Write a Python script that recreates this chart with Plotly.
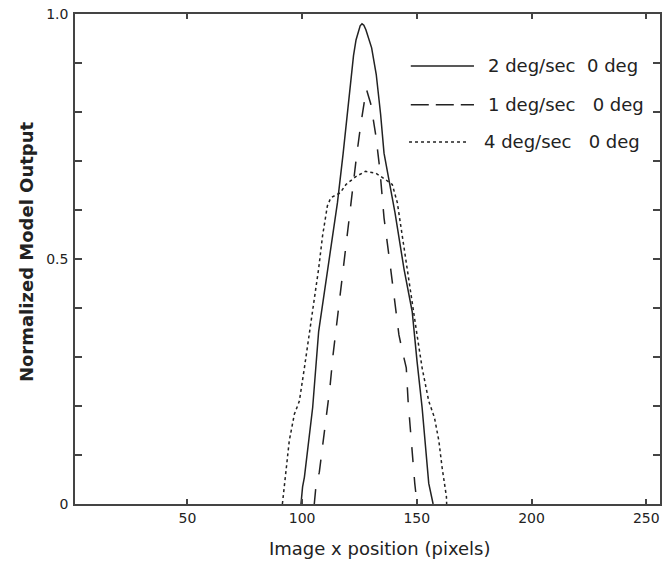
import plotly.graph_objects as go

# ---- data ----
x_2deg = [99.5, 100.2, 101.0, 104.6, 107.2, 111.5, 115.4, 117.9, 119.8, 121.0, 122.4, 123.5, 124.5,
          125.3, 126.1, 126.9, 127.8, 129.0, 130.3, 132.3, 134.2, 135.7, 140.5, 144.4, 148.0,
          150.1, 152.3, 155.2, 157.1]
y_2deg = [0.0, 0.035, 0.055, 0.197, 0.352, 0.49, 0.615, 0.716, 0.796, 0.86, 0.915, 0.947, 0.966,
          0.976, 0.98, 0.977, 0.968, 0.952, 0.931, 0.877, 0.796, 0.716, 0.594, 0.48, 0.392,
          0.291, 0.197, 0.042, 0.0]

x_1deg = [105.3, 106.0, 107.5, 108.6, 109.6, 110.6, 112.1, 113.5, 115.2, 116.9, 118.6, 120.2, 121.7,
          123.7, 125.6, 126.7, 128.0, 129.9, 132.1, 133.9, 135.7, 138.6, 140.3, 142.2, 143.9,
          145.4, 146.2, 147.3, 148.4, 149.1, 150.1]
y_1deg = [0.0, 0.035, 0.065, 0.106, 0.133, 0.17, 0.237, 0.305, 0.372, 0.439, 0.507, 0.578, 0.641,
          0.709, 0.776, 0.813, 0.847, 0.817, 0.753, 0.682, 0.584, 0.48, 0.412, 0.345, 0.308,
          0.278, 0.21, 0.143, 0.075, 0.042, 0.0]

x_4deg = [91.4, 93.0, 94.4, 96.6, 98.8, 101.0, 103.1, 105.3, 107.2, 108.9, 111.0, 112.5, 116.6,
          119.1, 123.4, 127.6, 132.1, 136.4, 139.3, 141.5, 143.6, 145.8, 148.0, 150.1, 152.3,
          155.2, 157.7, 159.6, 161.0, 162.9, 163.0]
y_4deg = [0.0, 0.075, 0.129, 0.183, 0.21, 0.278, 0.345, 0.412, 0.48, 0.547, 0.608, 0.625, 0.635,
          0.652, 0.668, 0.679, 0.675, 0.662, 0.652, 0.615, 0.547, 0.48, 0.412, 0.345, 0.278,
          0.21, 0.176, 0.129, 0.075, 0.015, 0.0]

series_names = ["2 deg/sec\u00a0\u00a00 deg", "1 deg/sec\u00a0\u00a0\u00a00 deg", "4 deg/sec\u00a0\u00a0\u00a00 deg"]
x_ticks = [50, 100, 150, 200, 250]
y_ticks = [0, 0.5, 1.0]
y_tick_text = ["0", "0.5", "1.0"]
x_title = "Image x position (pixels)"
y_title = "Normalized Model Output"

INK = "#222222"
FONT = "DejaVu Sans"

fig = go.Figure()
fig.add_trace(go.Scatter(x=x_2deg, y=y_2deg, mode="lines", name=series_names[0],
                         line=dict(color=INK, width=1.5)))
fig.add_trace(go.Scatter(x=x_1deg, y=y_1deg, mode="lines", name=series_names[1],
                         line=dict(color=INK, width=1.5, dash="15px,15px")))
fig.add_trace(go.Scatter(x=x_4deg, y=y_4deg, mode="lines", name=series_names[2],
                         line=dict(color=INK, width=1.5, dash="3px,3px")))

# legend drawn inside plot (lines + labels)
leg_y = [0.894, 0.815, 0.739]
leg_x0 = [0.574, 0.574, 0.571]
leg_x1 = [0.682, 0.682, 0.673]
leg_tx = [0.703, 0.702, 0.696]
leg_dash = ["solid", "18px,7px", "3px,3px"]
for i in range(3):
    fig.add_shape(type="line", xref="x domain", yref="y domain",
                  x0=leg_x0[i], x1=leg_x1[i], y0=leg_y[i], y1=leg_y[i],
                  line=dict(color=INK, width=1.5, dash=leg_dash[i]))
    fig.add_annotation(xref="x domain", yref="y domain", x=leg_tx[i], y=leg_y[i],
                       text=series_names[i], showarrow=False, xanchor="left", yanchor="middle",
                       font=dict(family=FONT, size=18, color=INK))

fig.add_annotation(xref="paper", yref="paper", x=0.522, y=-0.09, text=x_title, showarrow=False,
                   xanchor="center", yanchor="middle", font=dict(family=FONT, size=18, color=INK))
fig.add_annotation(xref="paper", yref="paper", x=-0.083, y=0.515, text="<b>" + y_title + "</b>",
                   showarrow=False, textangle=-90, xanchor="center", yanchor="middle",
                   font=dict(family=FONT, size=18, color=INK))

fig.update_layout(
    width=668, height=562,
    margin=dict(l=75, r=6, t=9, b=58),
    paper_bgcolor="white", plot_bgcolor="white",
    showlegend=False,
    font=dict(family=FONT, size=14, color=INK),
)
fig.update_xaxes(range=[1, 256], tickvals=x_ticks, ticks="inside", ticklen=5, tickwidth=1.5,
                 tickcolor="#444", showline=True, linecolor="#444", linewidth=1.5, mirror="ticks",
                 showgrid=False, zeroline=False, tickfont=dict(size=14), ticklabelstandoff=0)
fig.update_yaxes(range=[0, 1], tickvals=y_ticks, ticktext=y_tick_text, ticks="inside", ticklen=7,
                 tickwidth=1.5, tickcolor="#444", showline=True, linecolor="#444", linewidth=1.5,
                 mirror="ticks", showgrid=False, zeroline=False, tickfont=dict(size=14),
                 ticklabelstandoff=2,
                 minor=dict(dtick=0.1, ticks="inside", ticklen=7, tickwidth=1.5, tickcolor="#444",
                            showgrid=False))

fig.write_html("out.html", config={"displayModeBar": False},
               post_script="document.body.style.margin='0';document.body.style.padding='0';")
